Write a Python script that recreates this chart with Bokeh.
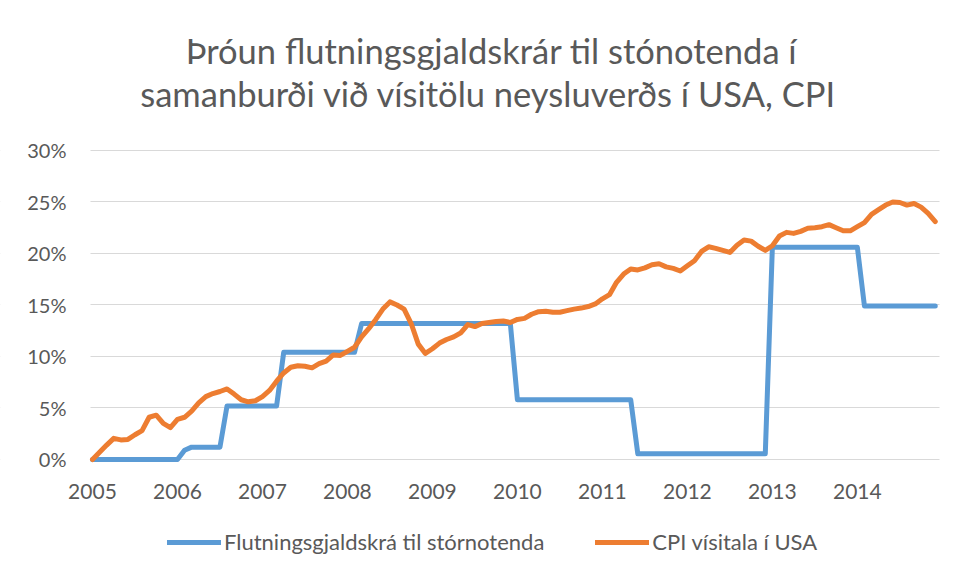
from bokeh.plotting import figure
from bokeh.models import (Range1d, FixedTicker, PrintfTickFormatter, Legend, LegendItem,
                          Label, BoxAnnotation)
from bokeh.embed import file_html
from bokeh.resources import INLINE

title_line1 = "Þróun flutningsgjaldskrár til stónotenda í"
title_line2 = "samanburði við vísitölu neysluverðs í USA, CPI"

series_names = ["Flutningsgjaldskrá til stórnotenda", "CPI vísitala í USA"]
year_labels = ["2005", "2006", "2007", "2008", "2009", "2010", "2011", "2012", "2013", "2014"]
year_tick_months = [0, 12, 24, 36, 48, 60, 72, 84, 96, 108]
y_ticks = [0, 5, 10, 15, 20, 25, 30]

# month index 0 = Jan 2005 ... 119 = Dec 2014
months = list(range(120))

tariff = [
    0, 0, 0, 0, 0, 0, 0, 0, 0, 0, 0, 0,
    0, 0.9, 1.2, 1.2, 1.2, 1.2, 1.2, 5.2, 5.2, 5.2, 5.2, 5.2,
    5.2, 5.2, 5.2, 10.4, 10.4, 10.4, 10.4, 10.4, 10.4, 10.4, 10.4, 10.4,
    10.4, 10.4, 13.2, 13.2, 13.2, 13.2, 13.2, 13.2, 13.2, 13.2, 13.2, 13.2,
    13.2, 13.2, 13.2, 13.2, 13.2, 13.2, 13.2, 13.2, 13.2, 13.2, 13.2, 13.2,
    5.8, 5.8, 5.8, 5.8, 5.8, 5.8, 5.8, 5.8, 5.8, 5.8, 5.8, 5.8,
    5.8, 5.8, 5.8, 5.8, 5.8, 0.55, 0.55, 0.55, 0.55, 0.55, 0.55, 0.55,
    0.55, 0.55, 0.55, 0.55, 0.55, 0.55, 0.55, 0.55, 0.55, 0.55, 0.55, 0.55,
    20.6, 20.6, 20.6, 20.6, 20.6, 20.6, 20.6, 20.6, 20.6, 20.6, 20.6, 20.6,
    20.6, 14.9, 14.9, 14.9, 14.9, 14.9, 14.9, 14.9, 14.9, 14.9, 14.9, 14.9,
]

cpi = [
    0.0, 0.7, 1.4, 2.05, 1.9, 1.95, 2.4, 2.8, 4.1, 4.3, 3.5, 3.1,
    3.9, 4.1, 4.7, 5.5, 6.1, 6.4, 6.6, 6.85, 6.35, 5.8, 5.6, 5.7,
    6.1, 6.7, 7.6, 8.4, 8.95, 9.1, 9.05, 8.9, 9.3, 9.55, 10.15, 10.1,
    10.5, 10.9, 11.9, 12.7, 13.6, 14.6, 15.3, 15.0, 14.6, 13.2, 11.2, 10.3,
    10.75, 11.3, 11.65, 11.9, 12.3, 13.1, 12.9, 13.2, 13.3, 13.4, 13.45, 13.3,
    13.6, 13.7, 14.1, 14.35, 14.4, 14.3, 14.3, 14.45, 14.6, 14.7, 14.85, 15.1,
    15.6, 16.0, 17.2, 18.0, 18.5, 18.4, 18.6, 18.9, 19.0, 18.7, 18.55, 18.3,
    18.8, 19.3, 20.2, 20.65, 20.5, 20.3, 20.1, 20.8, 21.3, 21.2, 20.7, 20.3,
    20.75, 21.7, 22.05, 21.95, 22.15, 22.45, 22.5, 22.6, 22.8, 22.5, 22.2, 22.2,
    22.6, 23.0, 23.8, 24.25, 24.7, 25.0, 24.95, 24.7, 24.85, 24.5, 23.9, 23.1,
]

TEXT = "#595959"
FONT = "Lato"
PLOT_X_START, PLOT_X_END = -0.28, 119.6   # visible extent of the plot area (months)

# the frame covers the whole canvas; title, axes and legend are placed inside it
p = figure(frame_width=948, frame_height=579, output_backend="svg", toolbar_location=None,
           x_range=Range1d(-12.988, 120.87), y_range=Range1d(-11.65, 44.56),
           min_border_left=0, min_border_right=0, min_border_top=0, min_border_bottom=0)
p.title.visible = False

for txt, sx, sy in ((title_line1, 491, 529), (title_line2, 488, 486)):
    p.add_layout(Label(text=txt, x=sx, y=sy, x_units="screen", y_units="screen",
                       text_align="center", text_baseline="middle",
                       text_font=FONT, text_font_size="34.5px", text_color=TEXT))

p.outline_line_color = None
p.background_fill_color = "white"
p.border_fill_color = "white"

p.xgrid.visible = False
p.ygrid.grid_line_color = "#D9D9D9"
p.ygrid.grid_line_width = 1

# keep the horizontal grid lines within the plot area
p.add_layout(BoxAnnotation(right=PLOT_X_START, fill_color="white", fill_alpha=1,
                           line_color=None, level="underlay"))
p.add_layout(BoxAnnotation(left=PLOT_X_END, fill_color="white", fill_alpha=1,
                           line_color=None, level="underlay"))

p.xaxis.ticker = FixedTicker(ticks=year_tick_months)
p.xaxis.major_label_overrides = {m: y for m, y in zip(year_tick_months, year_labels)}
p.xaxis.fixed_location = 0
p.yaxis.ticker = FixedTicker(ticks=y_ticks)
p.yaxis.formatter = PrintfTickFormatter(format="%d%%")
p.yaxis.fixed_location = PLOT_X_START

for ax in (p.xaxis[0], p.yaxis[0]):
    ax.axis_line_color = None
    ax.major_tick_line_color = None
    ax.minor_tick_line_color = None
    ax.major_label_text_font = FONT
    ax.major_label_text_color = TEXT
p.xaxis.major_label_text_font_size = "21px"
p.yaxis.major_label_text_font_size = "20px"
p.xaxis.major_label_standoff = 19
p.yaxis.major_label_standoff = 18

r1 = p.line(months, tariff, line_color="#5B9BD5", line_width=5, line_join="round", line_cap="round")
r2 = p.line(months, cpi, line_color="#ED7D31", line_width=5, line_join="round", line_cap="round")

legend = Legend(items=[LegendItem(label=series_names[0], renderers=[r1]),
                       LegendItem(label=series_names[1], renderers=[r2])],
                orientation="horizontal", location=(167, 24),
                label_text_font=FONT, label_text_font_size="22px", label_text_color=TEXT,
                glyph_width=54, glyph_height=20, label_height=20, label_standoff=3, spacing=51,
                border_line_color=None, background_fill_alpha=0, margin=0, padding=6)
p.add_layout(legend, "center")

open("out.html", "w").write(file_html(p, INLINE))
